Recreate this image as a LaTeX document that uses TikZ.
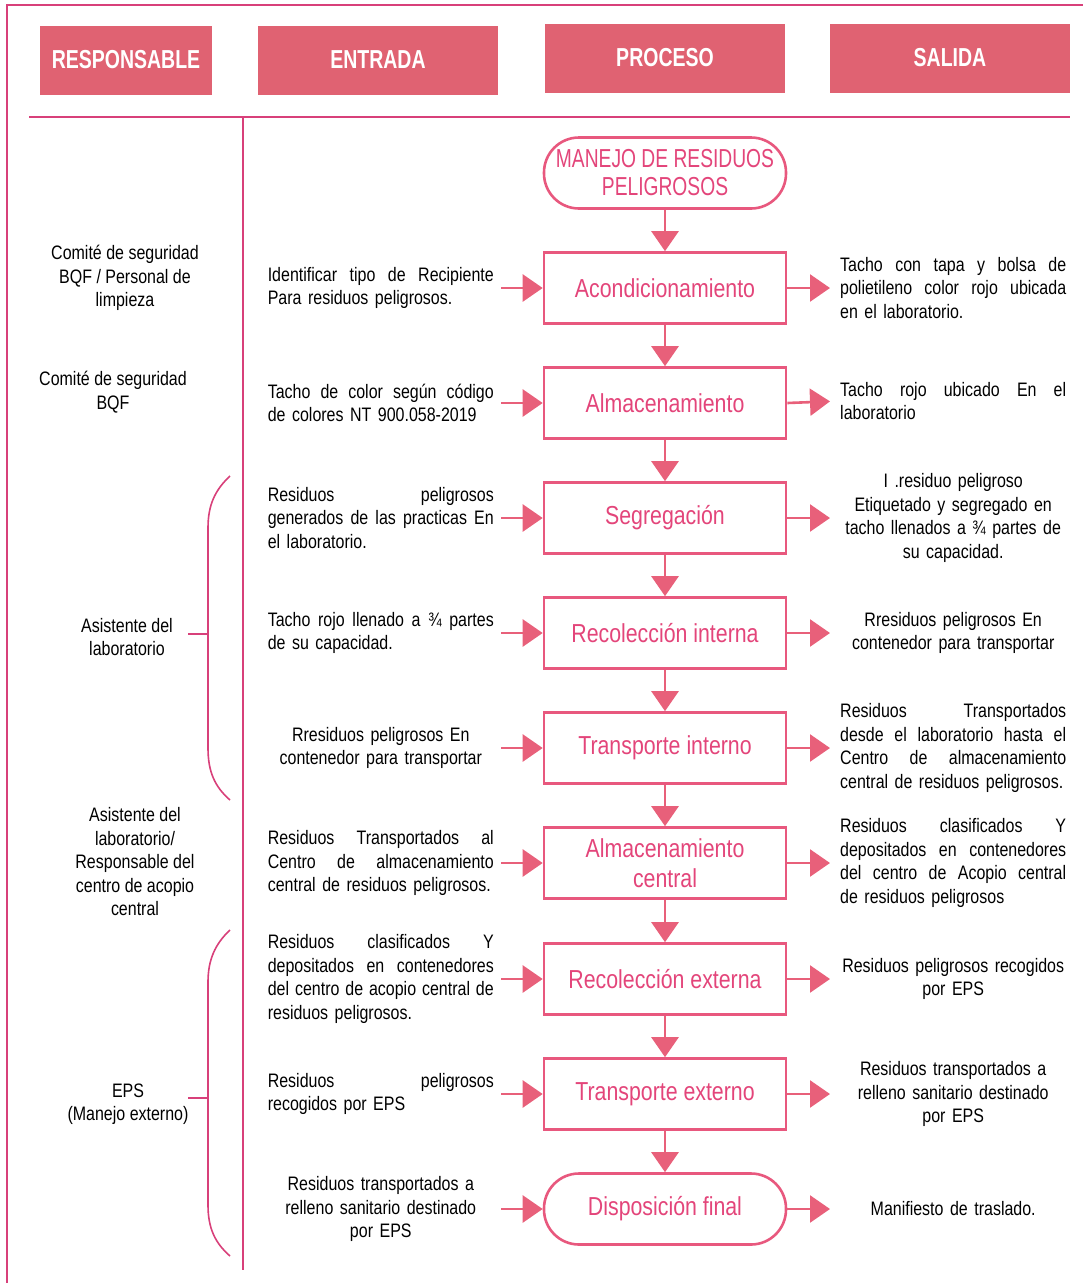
\documentclass[tikz,border=0pt]{standalone}
\usepackage{fontspec}
\setmainfont{Liberation Sans}[FakeStretch=0.82]
\newfontfamily\hdrfont{Liberation Sans}[FakeStretch=0.75]
\newfontfamily\manfont{Liberation Sans}[FakeStretch=0.74]
\usetikzlibrary{arrows.meta}
\definecolor{hdrpink}{HTML}{E06272}
\definecolor{boxpink}{HTML}{E8587E}
\definecolor{txtpink}{HTML}{E3457A}
\definecolor{framepink}{HTML}{D8407A}
\definecolor{arrpink}{HTML}{E8607A}
\newcommand{\J}[1]{{\spaceskip=0pt\xspaceskip=0pt\makebox[\hsize][s]{#1}}}
\begin{document}
\begin{tikzpicture}[x=1pt,y=-1pt,
 hdr/.style={fill=hdrpink,text=white,font=\hdrfont\bfseries\fontsize{26}{30}\selectfont,minimum height=69pt,inner sep=0pt},
 proc/.style={draw=boxpink,line width=2.6pt,minimum width=242pt,minimum height=71pt,text=txtpink,font=\fontsize{26}{30}\selectfont,inner sep=0pt,align=center},
 term/.style={proc,rounded corners=35pt},
 body/.style={font=\fontsize{19.5}{23.5}\selectfont,inner sep=0pt,text width=226pt},
 inbox/.style={body,anchor=east},
 outbox/.style={body,anchor=west},
 varr/.style={draw=arrpink,line width=2.6pt,-{Triangle[length=20pt,width=27pt]}},
 harr/.style={varr},
 frame/.style={draw=framepink,line width=1.2pt},
 bracepath/.style={draw=framepink,line width=1.6pt},
 resp/.style={font=\fontsize{19.5}{23.5}\selectfont,align=center,inner sep=0pt}
]
\useasboundingbox (0,0) rectangle (1083,1283);
% frame lines
\draw[frame] (7,1283) -- (7,5) -- (1083,5);
\draw[frame] (29,117) -- (1070,117);
\draw[frame] (243,117) -- (243,1270);
% headers
\node[hdr,minimum width=172pt] (h1) at (126,60) {RESPONSABLE};
\node[hdr,minimum width=240pt] (h2) at (378,60) {ENTRADA};
\node[hdr,minimum width=240pt] (h3) at (665,58) {PROCESO};
\node[hdr,minimum width=240pt] (h4) at (950,58) {SALIDA};
% process
\node[term,font=\manfont\fontsize{26}{28}\selectfont] (s) at (665,173) {MANEJO DE RESIDUOS\\PELIGROSOS};
\node[proc] (b1) at (665,288) {Acondicionamiento};
\node[proc] (b2) at (665,403) {Almacenamiento};
\node[proc] (b3) at (665,518) {Segregación};
\node[proc] (b4) at (665,633) {Recolección interna};
\node[proc] (b5) at (665,748) {Transporte interno};
\node[proc] (b6) at (665,863) {Almacenamiento\\central};
\node[proc] (b7) at (665,979) {Recolección externa};
\node[proc] (b8) at (665,1094) {Transporte externo};
\node[term] (b9) at (665,1209) {Disposición final};
\draw[varr] (s) -- (b1);
\draw[varr] (b1) -- (b2);
\draw[varr] (b2) -- (b3);
\draw[varr] (b3) -- (b4);
\draw[varr] (b4) -- (b5);
\draw[varr] (b5) -- (b6);
\draw[varr] (b6) -- (b7);
\draw[varr] (b7) -- (b8);
\draw[varr] (b8) -- (b9);
% inputs
\node[inbox,align=left] (i1) at (494,288) {\J{Identificar tipo de Recipiente}\\Para residuos peligrosos.};
\node[inbox,align=left] (i2) at (494,403) {\J{Tacho de color según código}\\de colores NT 900.058-2019};
\node[inbox,align=left] (i3) at (494,518) {\J{Residuos peligrosos}\\\J{generados de las practicas En}\\el laboratorio.};
\node[inbox,align=left] (i4) at (494,633) {\J{Tacho rojo llenado a ¾ partes}\\de su capacidad.};
\node[inbox,align=center] (i5) at (494,748) {Rresiduos peligrosos En\\contenedor para transportar};
\node[inbox,align=left] (i6) at (494,863) {\J{Residuos Transportados al}\\\J{Centro de almacenamiento}\\central de residuos peligrosos.};
\node[inbox,align=left] (i7) at (494,979) {\J{Residuos clasificados Y}\\\J{depositados en contenedores}\\\J{del centro de acopio central de}\\residuos peligrosos.};
\node[inbox,align=left] (i8) at (494,1094) {\J{Residuos peligrosos}\\recogidos por EPS};
\node[inbox,align=center] (i9) at (494,1209) {Residuos transportados a\\relleno sanitario destinado\\por EPS};
\foreach \k in {1,...,9}{\draw[harr,shorten <=7pt] (i\k.east) -- (b\k.west);}
% outputs
\node[outbox,align=left] (o1) at (840,288) {\J{Tacho con tapa y bolsa de}\\\J{polietileno color rojo ubicada}\\en el laboratorio.};
\node[outbox,align=left] (o2) at (840,401) {\J{Tacho rojo ubicado En el}\\laboratorio};
\node[outbox,align=center] (o3) at (840,518) {I .residuo peligroso\\Etiquetado y segregado en\\tacho llenados a ¾ partes de\\su capacidad.};
\node[outbox,align=center] (o4) at (840,633) {Rresiduos peligrosos En\\contenedor para transportar};
\node[outbox,align=left] (o5) at (840,748) {\J{Residuos Transportados}\\\J{desde el laboratorio hasta el}\\\J{Centro de almacenamiento}\\central de residuos peligrosos.};
\node[outbox,align=left] (o6) at (840,863) {\J{Residuos clasificados Y}\\\J{depositados en contenedores}\\\J{del centro de Acopio central}\\de residuos peligrosos};
\node[outbox,align=center] (o7) at (840,979) {Residuos peligrosos recogidos\\por EPS};
\node[outbox,align=center] (o8) at (840,1094) {Residuos transportados a\\relleno sanitario destinado\\por EPS};
\node[outbox,align=center] (o9) at (840,1209) {Manifiesto de traslado.};
\foreach \k in {1,...,9}{\draw[harr,shorten >=10pt] (b\k.east) -- (o\k.west);}
% responsables
\node[resp] (r1) at (125,278) {Comité de seguridad\\BQF / Personal de\\limpieza};
\node[resp] (r2) at (113,392) {Comité de seguridad\\BQF};
\node[resp] (r3) at (127,637) {Asistente del\\laboratorio};
\node[resp] (r4) at (135,862) {Asistente del\\laboratorio/\\Responsable del\\centro de acopio\\central};
\node[resp] (r5) at (128,1104) {EPS\\(Manejo externo)};
% braces
\draw[bracepath] (230,476) .. controls (215,490) and (208,505) .. (208,528) -- (208,748) .. controls (208,772) and (215,787) .. (230,800);
\draw[bracepath] (188,634) -- (208,634);
\draw[bracepath] (230,930) .. controls (215,944) and (208,960) .. (208,982) -- (208,1205) .. controls (208,1228) and (215,1243) .. (230,1256);
\draw[bracepath] (188,1098) -- (208,1098);
\end{tikzpicture}
\end{document}
